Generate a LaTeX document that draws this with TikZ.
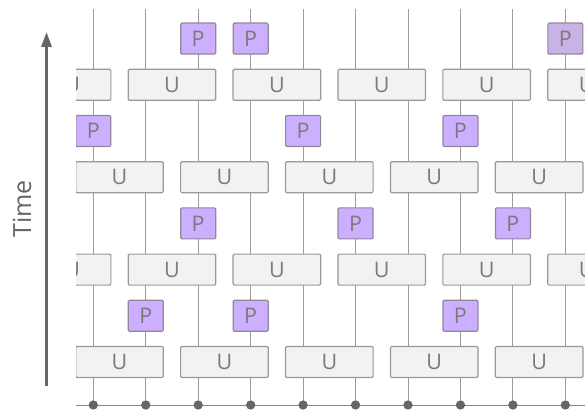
\documentclass[tikz,border=0pt]{standalone}
\usepackage{fontspec}
\setmainfont{Open Sans}
\usetikzlibrary{arrows.meta}
\definecolor{ufill}{HTML}{F2F2F2}
\definecolor{uline}{HTML}{999999}
\definecolor{pfill}{HTML}{CCB0FF}
\definecolor{pfillb}{HTML}{C9B2E6}
\definecolor{pline}{HTML}{8E8898}
\definecolor{wirec}{HTML}{9C9C9C}
\definecolor{txt}{HTML}{7A7A7A}
\definecolor{darkg}{HTML}{666666}
\tikzset{
  wireline/.style={draw=wirec, line width=1pt},
  basel/.style={draw=darkg!80, line width=0.8pt},
  dotn/.style={circle, fill=darkg, inner sep=0pt, minimum size=9pt},
  ubox/.style={draw=uline, fill=ufill, line width=1.2pt, rounded corners=1.2pt,
    minimum width=87.6pt, minimum height=31pt, inner sep=0pt,
    text=txt, font=\fontsize{21.5}{24}\selectfont},
  pbox/.style={draw=pline, fill=pfill, line width=1.2pt, rounded corners=1.2pt,
    minimum width=35pt, minimum height=31pt, inner sep=0pt,
    text=txt, font=\fontsize{21.5}{24}\selectfont},
  timearrow/.style={draw=darkg, line width=3pt, -{Triangle[length=15pt,width=10pt]}},
  timelabel/.style={rotate=90, text=darkg, font=\fontsize{25}{30}\selectfont}
}
\begin{document}
\begin{tikzpicture}[x=1pt,y=-1pt]
\useasboundingbox (0,0) rectangle (585,411);
% base line
\coordinate (bl) at (76,405);
\coordinate (br) at (585,405);
\draw[basel] (bl) -- (br);
% wires and dots
\foreach \i in {0,...,9} {
  \coordinate (t\i) at ({93.3+52.45*\i},9);
  \node[dotn] (d\i) at ({93.3+52.45*\i},405) {};
  \draw[wireline] (t\i) -- (d\i.center);
  \node[dotn] at (d\i) {};
}
% time arrow and label
\coordinate (ab) at (46.5,386);
\coordinate (at) at (46.5,32);
\draw[timearrow] (ab) -- (at);
\node[timelabel] (time) at (22,209) {Time};
% gates
\begin{scope}
\clip (76,0) rectangle (585,411);
\foreach \y/\n in {362/a,177.2/c} {
  \foreach \k in {0,2,4,6,8} {
    \node[ubox] (u\n\k) at ({93.3+52.45*(\k+0.5)},\y) {U};
  }
}
\foreach \y/\n in {269.6/b,84.8/d} {
  \foreach \k [count=\c] in {1,3,5,7} {
    \node[ubox] (u\n\c) at ({93.3+52.45*(\k+0.5)},\y) {U};
  }
  \node[ubox] (u\n l) at ({93.3-52.45*0.5},\y) {\hspace*{10pt}U};
  \node[ubox] (u\n r) at ({93.3+52.45*9.5},\y) {U\hspace*{10pt}};
}
\foreach \y/\w/\n in {315.8/1/pa1,315.8/3/pa3,315.8/7/pa7,
                      223.4/2/pb2,223.4/5/pb5,223.4/8/pb8,
                      131/0/pc0,131/4/pc4,131/7/pc7,
                      38.6/2/pd2,38.6/3/pd3} {
  \node[pbox] (\n) at ({93.3+52.45*\w},\y) {P};
}
\node[pbox, fill=pfillb] (pd9) at ({93.3+52.45*9},38.6) {P};
\end{scope}
\end{tikzpicture}
\end{document}
